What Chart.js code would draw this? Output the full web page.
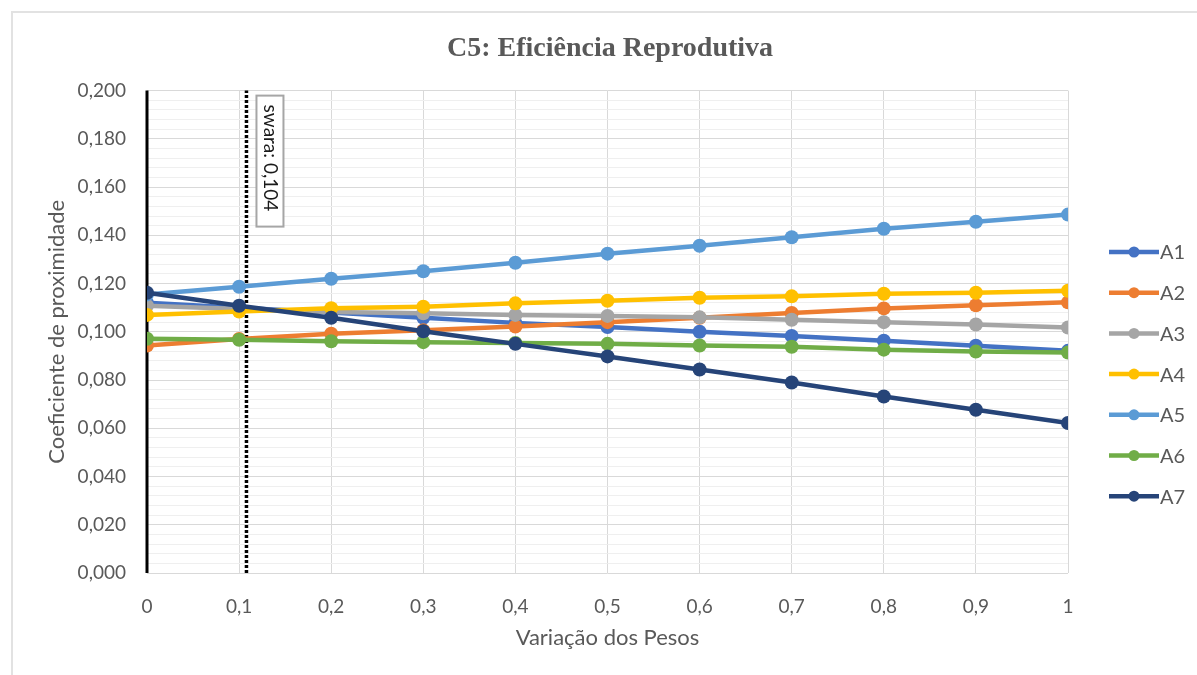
<!DOCTYPE html>
<html>
<head>
<meta charset="utf-8">
<script src="https://cdn.jsdelivr.net/npm/chart.js@4"></script>
<style>
  body { margin: 0; background: #fff; }
  #moldura { position: absolute; left: 11px; top: 11px; width: 1300px; height: 800px;
             border-left: 2px solid #e2e2e2; border-top: 2px solid #e2e2e2; }
  #grafico { position: absolute; left: 0; top: 0; }
</style>
</head>
<body>
<div id="moldura"></div>
<canvas id="grafico" width="1197" height="675"></canvas>
<script>
// variação dos pesos (eixo x)
const pesos = [0, 0.1, 0.2, 0.3, 0.4, 0.5, 0.6, 0.7, 0.8, 0.9, 1]

// coeficiente de proximidade por alternativa
const A1 = [0.1120, 0.1100, 0.1080, 0.1058, 0.1037, 0.1020, 0.1000, 0.0983, 0.0963, 0.0942, 0.0921]
const A2 = [0.0943, 0.0970, 0.0992, 0.1006, 0.1022, 0.1040, 0.1058, 0.1078, 0.1097, 0.1110, 0.1122]
const A3 = [0.1108, 0.1095, 0.1082, 0.1077, 0.1070, 0.1066, 0.1060, 0.1050, 0.1040, 0.1030, 0.1018]
const A4 = [0.1070, 0.1084, 0.1098, 0.1104, 0.1118, 0.1129, 0.1141, 0.1147, 0.1158, 0.1162, 0.1170]
const A5 = [0.1155, 0.1187, 0.1220, 0.1251, 0.1286, 0.1324, 0.1357, 0.1392, 0.1427, 0.1456, 0.1486]
const A6 = [0.0971, 0.0967, 0.0961, 0.0957, 0.0954, 0.0950, 0.0943, 0.0938, 0.0926, 0.0918, 0.0914]
const A7 = [0.1162, 0.1108, 0.1058, 0.1002, 0.0950, 0.0898, 0.0844, 0.0790, 0.0732, 0.0677, 0.0622]

const nomes = ['A1', 'A2', 'A3', 'A4', 'A5', 'A6', 'A7']
const series = [A1, A2, A3, A4, A5, A6, A7]
const cores = ['#4472C4', '#ED7D31', '#A5A5A5', '#FFC000', '#5B9BD5', '#70AD47', '#264478']

// linha de referência (peso swara)
const swaraPos = 0.108
const swaraTexto = 'swara: 0,104'

const cinza = '#595959'
const fonte = 'Lato, "Open Sans", sans-serif'

const virgula = (v, casas) => v.toFixed(casas).replace('.', ',')
const ehMaior = v => Math.round(v * 1000) % 20 === 0

let datasets = series.map((valores, i) => ({
    label: nomes[i],
    data: valores.map((v, j) => ({ x: pesos[j], y: v })),
    borderColor: cores[i],
    backgroundColor: cores[i],
    borderWidth: 4.5,
    pointRadius: 7,
    pointBorderWidth: 0,
    order: 7 - i
}))

datasets.push({
    label: 'eixo',
    data: [{ x: 0, y: 0 }, { x: 0, y: 0.2 }],
    borderColor: '#000',
    borderWidth: 3,
    pointRadius: 0,
    clip: false,
    order: 20
})
datasets.push({
    label: 'swara',
    data: [{ x: swaraPos, y: 0 }, { x: swaraPos, y: 0.2 }],
    borderColor: '#000',
    borderWidth: 3.5,
    borderDash: [3, 2],
    pointRadius: 0,
    clip: false,
    order: 21
})

// legenda desenhada à mão (linha + marcador como no Excel)
const legendaPlugin = {
    id: 'legendaExcel',
    afterDraw(chart) {
        const ctx = chart.ctx
        const x0 = chart.chartArea.right + 41
        ctx.save()
        nomes.forEach((nome, i) => {
            const y = 252 + i * 40.7
            ctx.strokeStyle = cores[i]
            ctx.lineWidth = 4.5
            ctx.beginPath()
            ctx.moveTo(x0, y)
            ctx.lineTo(x0 + 50, y)
            ctx.stroke()
            ctx.fillStyle = cores[i]
            ctx.beginPath()
            ctx.arc(x0 + 25, y, 5.5, 0, Math.PI * 2)
            ctx.fill()
            ctx.fillStyle = cinza
            ctx.font = '20px ' + fonte
            ctx.textAlign = 'left'
            ctx.textBaseline = 'middle'
            ctx.fillText(nome, x0 + 51, y + 1)
        })
        ctx.restore()
    }
}

// caixa de rótulo da linha swara
const rotuloPlugin = {
    id: 'rotuloSwara',
    afterDatasetsDraw(chart) {
        const ctx = chart.ctx
        const xp = chart.scales.x.getPixelForValue(swaraPos)
        const left = xp + 10, top = chart.chartArea.top + 5
        ctx.save()
        ctx.fillStyle = '#fff'
        ctx.fillRect(left, top, 27, 131)
        ctx.strokeStyle = '#a6a6a6'
        ctx.lineWidth = 2
        ctx.strokeRect(left, top, 27, 131)
        ctx.translate(left + 13.5, top + 9)
        ctx.rotate(Math.PI / 2)
        ctx.fillStyle = '#1a1a1a'
        ctx.font = '19px ' + fonte
        ctx.textAlign = 'left'
        ctx.textBaseline = 'middle'
        ctx.fillText(swaraTexto, 0, 0)
        ctx.restore()
    }
}

new Chart(document.getElementById('grafico'), {
    type: 'line',
    data: { datasets: datasets },
    plugins: [rotuloPlugin, legendaPlugin],
    options: {
        responsive: false,
        animation: false,
        events: [],
        layout: { padding: { left: 23, right: 0, top: 0, bottom: 0 } },
        plugins: {
            legend: { display: false },
            tooltip: { enabled: false },
            title: {
                display: true,
                text: 'C5: Eficiência Reprodutiva',
                color: cinza,
                font: { family: '"Liberation Serif", "Times New Roman", serif', size: 28, weight: 'bold' },
                padding: { top: 32, bottom: 25 }
            }
        },
        scales: {
            x: {
                type: 'linear',
                min: 0,
                max: 1,
                afterFit: s => { s.height = 102 },
                grid: { color: '#d9d9d9', lineWidth: 1, drawTicks: false },
                border: { display: false },
                ticks: {
                    stepSize: 0.1,
                    autoSkip: false,
                    maxRotation: 0,
                    padding: 22,
                    color: cinza,
                    font: { family: fonte, size: 19 },
                    callback: v => String(Math.round(v * 10) / 10).replace('.', ',')
                },
                title: {
                    display: true,
                    text: 'Variação dos Pesos',
                    color: cinza,
                    font: { family: fonte, size: 22 },
                    padding: { top: 0, bottom: 24 }
                }
            },
            y: {
                min: 0,
                max: 0.2,
                afterFit: s => { s.width = 124 },
                grid: {
                    drawTicks: false,
                    lineWidth: 1,
                    color: c => ehMaior(c.tick.value) ? '#d9d9d9' : '#efefef'
                },
                border: { display: false },
                ticks: {
                    stepSize: 0.004,
                    autoSkip: false,
                    padding: 21,
                    color: cinza,
                    font: { family: fonte, size: 19 },
                    callback: v => ehMaior(v) ? virgula(v, 3) : ''
                },
                title: {
                    display: true,
                    text: 'Coeficiente de proximidade',
                    color: cinza,
                    font: { family: fonte, size: 22 },
                    padding: { top: 21, bottom: 0 }
                }
            },
            // eixo vazio só para reservar espaço da legenda
            reserva: {
                position: 'right',
                min: 0,
                max: 1,
                afterFit: s => { s.width = 129 },
                grid: { display: false, drawOnChartArea: false },
                border: { display: false },
                ticks: { display: false }
            }
        }
    }
})
</script>
</body>
</html>
